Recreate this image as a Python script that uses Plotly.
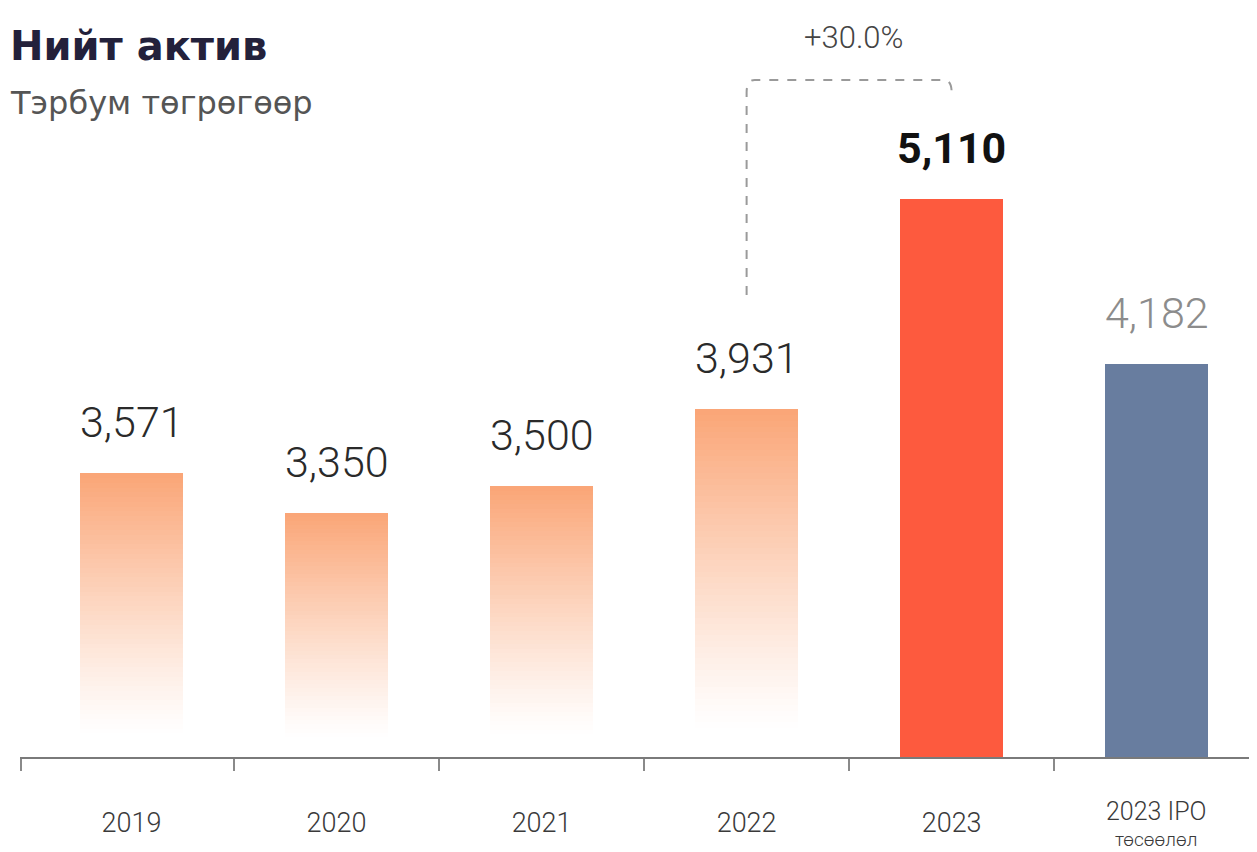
import plotly.graph_objects as go

# ---------------- data ----------------
categories = ["2019", "2020", "2021", "2022", "2023", "2023 IPO төсөөлөл"]
tick_main = ["2019", "2020", "2021", "2022", "2023", "2023 IPO"]
tick_sub = ["", "", "", "", "", "төсөөлөл"]
values = [3571, 3350, 3500, 3931, 5110, 4182]
kinds = ["hist", "hist", "hist", "hist", "actual", "plan"]
title_text = "Нийт актив"
subtitle_text = "Тэрбум төгрөгөөр"

# ---------------- style ----------------
Y_MIN, Y_MAX = 1982, 6180
X_RANGE = [-0.544, 5.465]
FONT = "Roboto"
TFONT = "DejaVu Sans"
PEACH = (250, 165, 118)
RED = "#FD5A3E"
SLATE = "#687D9F"
N_SLICES = 60

pos = list(range(len(categories)))  # category slots on the x axis

fig = go.Figure()

hist_idx = [i for i, k in enumerate(kinds) if k == "hist"]
hist_x = [pos[i] for i in hist_idx]
hist_v = [values[i] for i in hist_idx]

# gradient bars: stacked thin slices, fading to white at the bottom
for j in range(N_SLICES):
    t = (j + 0.5) / N_SLICES
    a = max(0.0, min(1.0, (t - 0.08) / 0.92)) ** 1.15
    col = "rgba(%d,%d,%d,%.3f)" % (PEACH[0], PEACH[1], PEACH[2], a)
    seg = [(v - Y_MIN) / N_SLICES for v in hist_v]
    base = [Y_MIN + j * s for s in seg]
    fig.add_trace(go.Bar(x=hist_x, y=seg, base=base, width=0.5,
                         marker=dict(color=col, line=dict(width=0)),
                         showlegend=False, hoverinfo="skip"))

for k, colr in (("actual", RED), ("plan", SLATE)):
    idx = [i for i, kk in enumerate(kinds) if kk == k]
    fig.add_trace(go.Bar(x=[pos[i] for i in idx],
                         y=[values[i] - Y_MIN for i in idx],
                         base=[Y_MIN] * len(idx), width=0.5,
                         marker=dict(color=colr, line=dict(width=0)),
                         hovertext=[categories[i] for i in idx],
                         showlegend=False))

# value labels
for i, (c, v, k) in enumerate(zip(categories, values, kinds)):
    if k == "actual":
        f = dict(family=FONT, size=43, color="#111111", weight=700)
    elif k == "plan":
        f = dict(family=FONT, size=43, color="#8c8c8c", weight=300)
    else:
        f = dict(family=FONT, size=43, color="#2a2a2a", weight=300)
    fig.add_annotation(x=pos[i], y=v, xref="x", yref="y", text=f"{v:,}",
                       showarrow=False, yanchor="bottom", yshift=24, font=f)

# two-line tick label (drawn as annotations so both lines stay in view)
for i, (m, s) in enumerate(zip(tick_main, tick_sub)):
    if s:
        fig.add_annotation(x=pos[i], y=0, xref="x", yref="paper", text=m,
                           showarrow=False, yanchor="middle", yshift=-54,
                           font=dict(family=FONT, size=25, color="#3a3a3a", weight=300))
        fig.add_annotation(x=pos[i], y=0, xref="x", yref="paper", text=s,
                           showarrow=False, yanchor="middle", yshift=-82,
                           font=dict(family=FONT, size=19, color="#3a3a3a", weight=300))
tick_shown = [m if not s else "" for m, s in zip(tick_main, tick_sub)]

# growth bracket 2022 -> 2023
growth = values[4] / values[3] - 1
yl = values[3] + 640
yt = values[4] + 667
yr = values[4] + 570
r = 0.04
ry = 70
path = (f"M 3,{yl} L 3,{yt - ry} Q 3,{yt} {3 + r},{yt} "
        f"L {4 - r},{yt} Q 4,{yt} 4,{yt - ry} L 4,{yr}")
fig.add_shape(type="path", path=path, xref="x", yref="y",
              line=dict(color="#9a9a9a", width=2, dash="dash"))
fig.add_annotation(x=3.52, y=yt, xref="x", yref="y", text=f"+{growth*100:.1f}%",
                   showarrow=False, yanchor="middle", yshift=42,
                   font=dict(family=FONT, size=31, color="#444444", weight=300))

# title / subtitle
fig.add_annotation(x=0, y=1, xref="paper", yref="paper", xanchor="left",
                   yanchor="middle", xshift=-12, yshift=-38, text=title_text,
                   showarrow=False,
                   font=dict(family=TFONT, size=40, color="#23213b", weight=700))
fig.add_annotation(x=0, y=1, xref="paper", yref="paper", xanchor="left",
                   yanchor="middle", xshift=-12, yshift=-95, text=subtitle_text,
                   showarrow=False,
                   font=dict(family=TFONT, size=32, color="#555555", weight=400))

bounds = [X_RANGE[0] + 0.004] + [p + 0.5 for p in pos[:-1]] + [X_RANGE[1] - 0.006]

fig.update_layout(
    width=1257, height=852, barmode="overlay", bargap=0,
    margin=dict(l=12, r=13, t=0, b=103, autoexpand=False),
    plot_bgcolor="white", paper_bgcolor="white", showlegend=False,
    xaxis=dict(type="linear", range=X_RANGE,
               tickmode="array", tickvals=pos, ticktext=tick_shown,
               ticks="", automargin=False,
               showline=True, linecolor="#7a7a7a", linewidth=2,
               minor=dict(tickmode="array", tickvals=bounds, ticks="outside",
                          ticklen=12, tickwidth=2, tickcolor="#8a8a8a",
                          showgrid=False),
               showgrid=False, zeroline=False, ticklabelstandoff=41,
               tickfont=dict(family=FONT, size=27, color="#3a3a3a", weight=300)),
    yaxis=dict(range=[Y_MIN, Y_MAX], visible=False, showgrid=False,
               zeroline=False, automargin=False),
)

fig.write_html("out.html")
